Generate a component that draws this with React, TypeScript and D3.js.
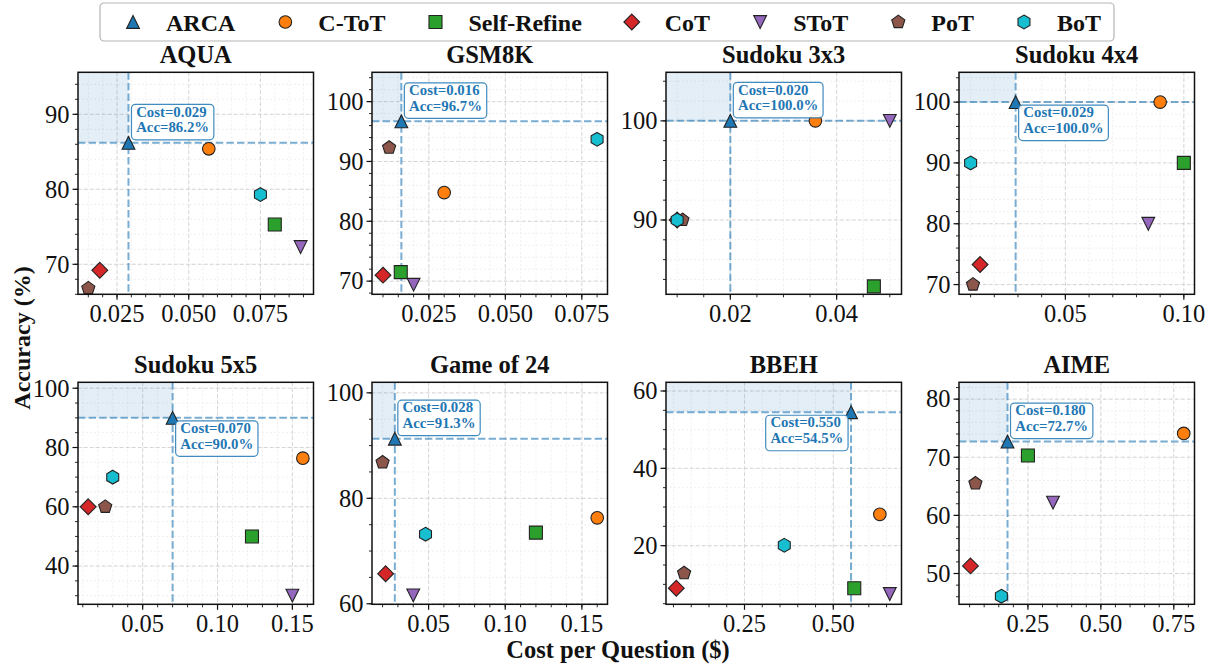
import React, { useEffect, useRef } from "react";
import * as d3 from "d3";

const W = 1217;
const H = 669;
const FONT = "'Liberation Serif', 'Times New Roman', serif";

// methods, in legend order
const methods = ["ARCA", "C-ToT", "Self-Refine", "CoT", "SToT", "PoT", "BoT"];
const colors = ["#1f77b4", "#ff7f0e", "#2ca02c", "#d62728", "#9467bd", "#8c564b", "#17becf"];
const shapes = ["tri-up", "circle", "square", "diamond", "tri-down", "pentagon", "hexagon"];

const tasks = ["AQUA", "GSM8K", "Sudoku 3x3", "Sudoku 4x4", "Sudoku 5x5", "Game of 24", "BBEH", "AIME"];

// cost per question ($) and accuracy (%), method order as above
const costAQUA = [0.029, 0.057, 0.080, 0.019, 0.089, 0.015, 0.075];
const accAQUA = [86.2, 85.4, 75.3, 69.2, 72.3, 66.8, 79.3];
const costGSM8K = [0.016, 0.030, 0.0158, 0.010, 0.020, 0.012, 0.080];
const accGSM8K = [96.7, 84.8, 71.5, 71.0, 69.4, 92.3, 93.7];
const costSudoku3 = [0.020, 0.036, 0.047, 0.010, 0.050, 0.011, 0.010];
const accSudoku3 = [100.0, 100.0, 83.3, 90.0, 100.0, 90.0, 90.0];
const costSudoku4 = [0.029, 0.090, 0.100, 0.014, 0.085, 0.011, 0.010];
const accSudoku4 = [100.0, 100.0, 90.0, 73.3, 80.0, 70.0, 90.0];
const costSudoku5 = [0.070, 0.157, 0.123, 0.0136, 0.150, 0.025, 0.030];
const accSudoku5 = [90.0, 76.4, 50.0, 60.0, 30.0, 60.0, 70.0];
const costGame24 = [0.028, 0.160, 0.120, 0.022, 0.040, 0.020, 0.048];
const accGame24 = [91.3, 76.3, 73.5, 65.7, 61.6, 86.8, 73.2];
const costBBEH = [0.550, 0.631, 0.559, 0.058, 0.659, 0.080, 0.362];
const accBBEH = [54.5, 28.1, 9.0, 9.0, 7.5, 12.9, 20.1];
const costAIME = [0.180, 0.784, 0.250, 0.053, 0.336, 0.070, 0.159];
const accAIME = [72.7, 74.1, 70.3, 51.3, 62.2, 65.5, 46.1];

const costs = [costAQUA, costGSM8K, costSudoku3, costSudoku4, costSudoku5, costGame24, costBBEH, costAIME];
const accs = [accAQUA, accGSM8K, accSudoku3, accSudoku4, accSudoku5, accGame24, accBBEH, accAIME];

// axis settings per panel
const xDomains = [[0.0114, 0.0935], [0.0064, 0.0834], [0.0079, 0.0522], [0.0051, 0.1045],
  [0.0068, 0.1641], [0.0131, 0.1667], [0.029, 0.692], [0.0137, 0.821]];
const yDomains = [[66, 95.6], [67.8, 104.9], [82.5, 104.9], [68.4, 104.9],
  [27.1, 102], [59.9, 102], [4.84, 62.25], [44.7, 82.9]];
const xTicks = [[0.025, 0.05, 0.075], [0.025, 0.05, 0.075], [0.02, 0.04], [0.05, 0.1],
  [0.05, 0.1, 0.15], [0.05, 0.1, 0.15], [0.25, 0.5], [0.25, 0.5, 0.75]];
const xTickLabels = [["0.025", "0.050", "0.075"], ["0.025", "0.050", "0.075"], ["0.02", "0.04"], ["0.05", "0.10"],
  ["0.05", "0.10", "0.15"], ["0.05", "0.10", "0.15"], ["0.25", "0.50"], ["0.25", "0.50", "0.75"]];
const yTicks = [[70, 80, 90], [70, 80, 90, 100], [90, 100], [70, 80, 90, 100],
  [40, 60, 80, 100], [60, 80, 100], [20, 40, 60], [50, 60, 70, 80]];
const xMinor = [0.005, 0.005, 0.005, 0.01, 0.01, 0.01, 0.05, 0.05];
const yMinor = [2, 2, 2, 2, 5, 5, 5, 2];
const labelPos = ["ur", "ur", "ur", "lr", "lr", "ur", "ll", "ur"];

const colX = [78, 372, 666, 959];
const rowY = [72.3, 382.3];
const axW = 235.5;
const axH = 222;

function polygon(n: number, r: number) {
  const pts = d3.range(n).map((k) => {
    const a = -Math.PI / 2 + (k * 2 * Math.PI) / n;
    return [r * Math.cos(a), r * Math.sin(a)];
  });
  return "M" + pts.map((p) => p.join(",")).join("L") + "Z";
}

function markerPath(kind: string) {
  switch (kind) {
    case "tri-up":
      return "M0,-6.4L6.4,6.4L-6.4,6.4Z";
    case "tri-down":
      return "M0,6.4L6.4,-6.4L-6.4,-6.4Z";
    case "circle":
      return d3.symbol(d3.symbolCircle, Math.PI * 6.3 * 6.3)() as string;
    case "square":
      return "M-6.5,-6.5H6.5V6.5H-6.5Z";
    case "diamond":
      return "M0,-7.9L7.9,0L0,7.9L-7.9,0Z";
    case "pentagon":
      return polygon(5, 6.9);
    default:
      return polygon(6, 6.9);
  }
}

function stepValues(domain: number[], step: number) {
  const out: number[] = [];
  const k0 = Math.ceil(domain[0] / step - 1e-9);
  const k1 = Math.floor(domain[1] / step + 1e-9);
  for (let k = k0; k <= k1; k++) out.push(+(k * step).toFixed(6));
  return out;
}

export default function App() {
  const ref = useRef<SVGSVGElement>(null);

  useEffect(() => {
    const svg = d3.select(ref.current);
    svg.selectAll("*").remove();

    svg.append("rect").attr("width", W).attr("height", H).attr("fill", "#fff");

    tasks.forEach((task, i) => {
      const x0 = colX[i % 4];
      const y0 = rowY[Math.floor(i / 4)];
      const x = d3.scaleLinear().domain(xDomains[i]).range([x0, x0 + axW]);
      const y = d3.scaleLinear().domain(yDomains[i]).range([y0 + axH, y0]);
      const g = svg.append("g");

      const mx = stepValues(xDomains[i], xMinor[i]);
      const my = stepValues(yDomains[i], yMinor[i]);

      // minor grid
      g.selectAll(".gxm").data(mx).join("line")
        .attr("x1", (d) => x(d)).attr("x2", (d) => x(d))
        .attr("y1", y0).attr("y2", y0 + axH)
        .attr("stroke", "#e6e6e6").attr("stroke-width", 0.6).attr("stroke-dasharray", "2,2");
      g.selectAll(".gym").data(my).join("line")
        .attr("y1", (d) => y(d)).attr("y2", (d) => y(d))
        .attr("x1", x0).attr("x2", x0 + axW)
        .attr("stroke", "#e6e6e6").attr("stroke-width", 0.6).attr("stroke-dasharray", "2,2");

      // major grid
      g.selectAll(".gx").data(xTicks[i]).join("line")
        .attr("x1", (d) => x(d)).attr("x2", (d) => x(d))
        .attr("y1", y0).attr("y2", y0 + axH)
        .attr("stroke", "#d0d0d0").attr("stroke-width", 0.9).attr("stroke-dasharray", "3.5,2.5");
      g.selectAll(".gy").data(yTicks[i]).join("line")
        .attr("y1", (d) => y(d)).attr("y2", (d) => y(d))
        .attr("x1", x0).attr("x2", x0 + axW)
        .attr("stroke", "#d0d0d0").attr("stroke-width", 0.9).attr("stroke-dasharray", "3.5,2.5");

      const cA = costs[i][0];
      const aA = accs[i][0];

      // shaded "better" region
      g.append("rect")
        .attr("x", x0).attr("y", y0)
        .attr("width", x(cA) - x0).attr("height", y(aA) - y0)
        .attr("fill", "#1f77b4").attr("fill-opacity", 0.12);

      // reference lines through ARCA
      g.append("line")
        .attr("x1", x(cA)).attr("x2", x(cA)).attr("y1", y0).attr("y2", y0 + axH)
        .attr("stroke", "#1f77b4").attr("stroke-opacity", 0.6).attr("stroke-width", 2)
        .attr("stroke-dasharray", "7.4,3.2");
      g.append("line")
        .attr("y1", y(aA)).attr("y2", y(aA)).attr("x1", x0).attr("x2", x0 + axW)
        .attr("stroke", "#1f77b4").attr("stroke-opacity", 0.6).attr("stroke-width", 2)
        .attr("stroke-dasharray", "7.4,3.2");

      // points
      const pts = methods.map((m, j) => ({ j, c: costs[i][j], a: accs[i][j] }));
      g.selectAll(".pt").data(pts.slice(1).concat(pts.slice(0, 1))).join("path")
        .attr("d", (d) => markerPath(shapes[d.j]))
        .attr("transform", (d) => `translate(${x(d.c)},${y(d.a)})`)
        .attr("fill", (d) => colors[d.j])
        .attr("stroke", "#222").attr("stroke-width", 1.1);

      // annotation box
      const ag = g.append("g");
      const rect = ag.append("rect");
      const t1 = ag.append("text").text(`Cost=${cA.toFixed(3)}`);
      const t2 = ag.append("text").text(`Acc=${aA.toFixed(1)}%`);
      [t1, t2].forEach((t) => t.attr("font-family", FONT).attr("font-size", 14.8)
        .attr("font-weight", "bold").attr("fill", "#1f77b4"));
      const tw = Math.max((t1.node() as SVGTextElement).getComputedTextLength(),
        (t2.node() as SVGTextElement).getComputedTextLength());
      const pad = 4.7;
      const bw = tw + 2 * pad;
      const bh = 35.5;
      const px = x(cA);
      const py = y(aA);
      const pos = labelPos[i];
      const left = pos === "ll" ? px - 3 - bw : px + 3;
      const top = pos === "ur" ? py - 3 - bh : py + 3;
      rect.attr("x", left).attr("y", top).attr("width", bw).attr("height", bh)
        .attr("rx", 4).attr("fill", "#fff").attr("fill-opacity", 0.92)
        .attr("stroke", "#1f77b4").attr("stroke-opacity", 0.85).attr("stroke-width", 1.2);
      t1.attr("x", left + pad).attr("y", top + 12.2);
      t2.attr("x", left + pad).attr("y", top + 28);

      // axes frame
      g.append("rect").attr("x", x0).attr("y", y0).attr("width", axW).attr("height", axH)
        .attr("fill", "none").attr("stroke", "#111").attr("stroke-width", 1.5);

      // ticks
      g.selectAll(".tx").data(mx).join("line")
        .attr("x1", (d) => x(d)).attr("x2", (d) => x(d))
        .attr("y1", y0 + axH).attr("y2", y0 + axH + 3)
        .attr("stroke", "#111").attr("stroke-width", 0.9);
      g.selectAll(".ty").data(my).join("line")
        .attr("y1", (d) => y(d)).attr("y2", (d) => y(d))
        .attr("x1", x0).attr("x2", x0 - 3)
        .attr("stroke", "#111").attr("stroke-width", 0.9);
      g.selectAll(".txM").data(xTicks[i]).join("line")
        .attr("x1", (d) => x(d)).attr("x2", (d) => x(d))
        .attr("y1", y0 + axH).attr("y2", y0 + axH + 5.5)
        .attr("stroke", "#111").attr("stroke-width", 1.2);
      g.selectAll(".tyM").data(yTicks[i]).join("line")
        .attr("y1", (d) => y(d)).attr("y2", (d) => y(d))
        .attr("x1", x0).attr("x2", x0 - 5.5)
        .attr("stroke", "#111").attr("stroke-width", 1.2);

      // tick labels
      g.selectAll(".lx").data(xTicks[i]).join("text")
        .attr("x", (d) => x(d)).attr("y", y0 + axH + 27.5)
        .attr("text-anchor", "middle")
        .attr("font-family", FONT).attr("font-size", 24.5).attr("fill", "#111")
        .text((d, k) => xTickLabels[i][k]);
      g.selectAll(".ly").data(yTicks[i]).join("text")
        .attr("x", x0 - 8.5).attr("y", (d) => y(d)).attr("dy", "0.34em")
        .attr("text-anchor", "end")
        .attr("font-family", FONT).attr("font-size", 24.5).attr("fill", "#111")
        .text((d) => String(d));

      // title
      g.append("text")
        .attr("x", x0 + axW / 2).attr("y", y0 - 9)
        .attr("text-anchor", "middle")
        .attr("font-family", FONT).attr("font-size", 24.5).attr("font-weight", "bold")
        .attr("fill", "#111")
        .text(task);
    });

    // axis labels
    svg.append("text")
      .attr("transform", "translate(30,338) rotate(-90)")
      .attr("text-anchor", "middle")
      .attr("font-family", FONT).attr("font-size", 24).attr("font-weight", "bold").attr("fill", "#111")
      .text("Accuracy (%)");
    svg.append("text")
      .attr("x", 618).attr("y", 658)
      .attr("text-anchor", "middle")
      .attr("font-family", FONT).attr("font-size", 24.5).attr("font-weight", "bold").attr("fill", "#111")
      .text("Cost per Question ($)");

    // legend
    const lg = svg.append("g");
    const frame = lg.append("rect");
    const items = methods.map((m, j) => {
      const it = lg.append("g");
      it.append("path").attr("d", markerPath(shapes[j]))
        .attr("fill", colors[j]).attr("stroke", "#222").attr("stroke-width", 1.1);
      const t = it.append("text").attr("x", 33).attr("y", 8.5)
        .attr("font-family", FONT).attr("font-size", 24).attr("font-weight", "bold").attr("fill", "#111")
        .text(m);
      return { it, w: (t.node() as SVGTextElement).getComputedTextLength() };
    });
    const total = d3.sum(items, (d) => 33 + d.w) + 50 * (items.length - 1);
    const frameW = total + 33 + 13;
    const frameL = 607 - frameW / 2;
    let cx = frameL + 33;
    items.forEach((d) => {
      d.it.attr("transform", `translate(${cx},22)`);
      cx += 33 + d.w + 50;
    });
    frame.attr("x", frameL).attr("y", 3).attr("width", frameW).attr("height", 38)
      .attr("rx", 4).attr("fill", "#fff").attr("stroke", "#b5b5b5").attr("stroke-width", 1.2);
  }, []);

  return (
    <svg
      ref={ref}
      width={W}
      height={H}
      style={{ position: "absolute", left: 0, top: 0, display: "block" }}
    />
  );
}
